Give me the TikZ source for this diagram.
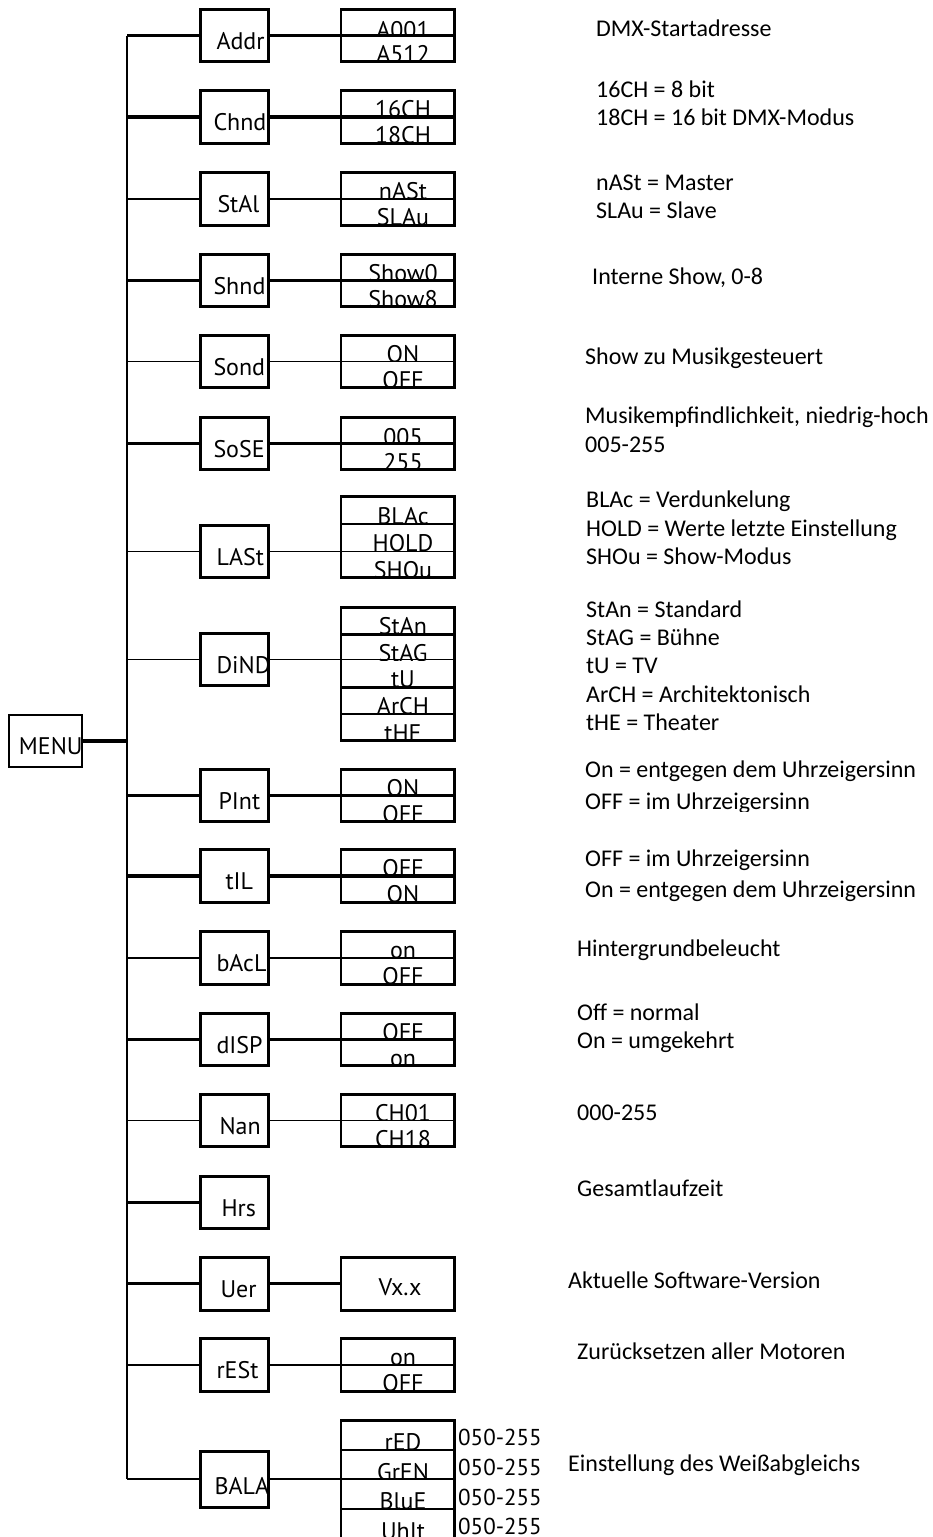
\documentclass[tikz,border=0pt]{standalone}
\usepackage{fontspec}
\setmainfont{Carlito}
\newfontfamily\labfont{PT Sans}
\tikzset{
  lab/.style={font=\labfont\fontsize{24}{28}\selectfont, inner sep=0pt, text=black,
    minimum width=0pt, minimum height=0pt, draw=none, fill=none},
  vallab/.style={font=\labfont\fontsize{23}{28}\selectfont, inner sep=0pt, anchor=base west},
  desc/.style={font=\fontsize{24}{28}\selectfont, inner sep=0pt, anchor=base west},
  l1/.style 2 args={draw, line width=3pt, minimum width=68pt, minimum height=52.5pt, inner sep=0pt,
    path picture={\node[lab, anchor=base west] at ([xshift=#1, yshift=12.5pt]path picture bounding box.south west) {#2};}},
  menubox/.style={draw, line width=2pt, minimum width=73pt, minimum height=52pt, inner sep=0pt,
    path picture={\node[lab, anchor=base west] at ([xshift=9pt, yshift=13pt]path picture bounding box.south west) {MENU};}},
  cellx/.style n args={3}{fill=white, minimum width=113pt, minimum height=#1, inner sep=0pt,
    path picture={\node[lab, anchor=base] at ([xshift=5pt, yshift=#3]path picture bounding box.south) {#2};}},
  cell/.style 2 args={cellx={#1}{#2}{-0.5pt}},
  thk/.style={line width=3.3pt},
  thn/.style={line width=1.7pt},
  trunkline/.style={line width=2pt},
  divthick/.style={line width=2.4pt},
  divthin/.style={line width=1.6pt},
  boxthick/.style={line width=3pt, line cap=rect, line join=miter},
  boxthin/.style={line width=1.8pt},
}
\newcommand\optbox[4]{%
  \foreach \txt [count=\i] in {#4} {
    \node[cell={#3pt}{\txt}] (#1\i) at (398, {#2+(\i-0.5)*#3}) {};
  }%
}
\newcommand\optborder[2]{%
  \draw[boxthick] (#11.north west) -- (#11.north east) -- (#1#2.south east) -- (#1#2.south west);
  \draw[boxthin] (#11.north west) -- (#1#2.south west);
}
\begin{document}
\begin{tikzpicture}[x=1pt, y=-1pt]
\useasboundingbox (0,0) rectangle (932,1537);
\fill[white] (0,0) rectangle (932,1537);

% level-2 option cells
\node[cellx={26.25pt}{A001}{-3pt}] (addr1) at (398,22.375) {};
\node[cellx={26.25pt}{A512}{-0.5pt}] (addr2) at (398,48.625) {};
\optbox{chnd}{90.75}{26.25}{16CH,18CH}
\optbox{stal}{172.75}{26.25}{nASt,SLAu}
\optbox{shnd}{254.25}{26.25}{Show0,Show8}
\optbox{sond}{335.25}{26.25}{ON,OFF}
\node[cellx={26.25pt}{005}{-2pt}] (sose1) at (398,430.375) {};
\node[cellx={26.25pt}{255}{-0.5pt}] (sose2) at (398,456.625) {};
\optbox{last}{496.5}{27}{BLAc,HOLD,SHOu}
\optbox{dind}{607.5}{26.6}{StAn,StAG,tU,ArCH,tHE}
\optbox{pint}{769.25}{26.25}{ON,OFF}
\optbox{til}{849.75}{26.25}{OFF,ON}
\optbox{bacl}{931.75}{26.25}{on,OFF}
\optbox{disp}{1013.25}{26.25}{OFF,on}
\optbox{nan}{1094.25}{26.25}{CH01,CH18}
\node[fill=white, minimum width=113pt, minimum height=52.5pt, inner sep=0pt] (uer1) at (398,1283.75) {};
\node[lab, anchor=base] (uerT) at (400,1295) {Vx.x};
\optbox{rest}{1338.75}{26.25}{on,OFF}
\optbox{bala}{1420.5}{29.5}{rED,GrEN,BluE,UhIt}

% level-1 boxes
\node[l1={14.5pt}{Addr}] (addr) at (234.5,35.5) {};
\node[l1={11.5pt}{Chnd}] (chnd) at (234.5,117) {};
\node[l1={15.5pt}{StAl}] (stal) at (234.5,199) {};
\node[l1={11.5pt}{Shnd}] (shnd) at (234.5,280.5) {};
\node[l1={11.5pt}{Sond}] (sond) at (234.5,361.5) {};
\node[l1={11.5pt}{SoSE}] (sose) at (234.5,443.5) {};
\node[l1={14.5pt}{LASt}] (last) at (234.5,551.5) {};
\node[l1={14.5pt}{DiND}] (dind) at (234.5,659.5) {};
\node[l1={16.5pt}{PInt}] (pint) at (234.5,795.5) {};
\node[l1={23.5pt}{tIL}] (til) at (234.5,876) {};
\node[l1={14.5pt}{bAcL}] (bacl) at (234.5,958) {};
\node[l1={14.5pt}{dISP}] (disp) at (234.5,1039.5) {};
\node[l1={17.5pt}{Nan}] (nan) at (234.5,1120.5) {};
\node[l1={19.5pt}{Hrs}] (hrs) at (234.5,1202.5) {};
\node[l1={18.5pt}{Uer}] (uer) at (234.5,1283.75) {};
\node[l1={14.5pt}{rESt}] (rest) at (234.5,1365) {};
\node[l1={12.5pt}{BALA}, minimum height=56pt] (bala) at (234.5,1479) {};

\node[menubox] (menu) at (45.5,741) {};

% trunk
\coordinate (trunkT) at (127,35.5);
\draw[trunkline] (trunkT) -- (bala.west -| trunkT);
\draw[thk] (menu.east) -- (menu.east -| trunkT);

% branches from trunk
\foreach \n/\s in {addr/thk,chnd/thk,stal/thn,shnd/thk,sond/thn,sose/thk,last/thn,dind/thn,
  pint/thk,til/thk,bacl/thn,disp/thk,nan/thn,hrs/thk,uer/thk,rest/thn,bala/thn}
  \draw[\s] (\n.west -| trunkT) -- (\n.west);

% connectors to option boxes (running through them as divider)
\foreach \n/\s in {addr/thk,chnd/thk,stal/thn,shnd/thk,sond/thn,sose/thk,last/thn,dind/thn,
  pint/thk,til/thk,bacl/thn,disp/thk,nan/thn,rest/thn,bala/thn}
  \draw[\s] (\n.east) -- (\n.east -| \n1.east);
\draw[thk] (uer.east) -- (uer1.west);

% further dividers
\draw[divthick] (last1.south west) -- (last1.south east);
\draw[divthick] (dind1.south west) -- (dind1.south east);
\draw[divthick] (dind3.south west) -- (dind3.south east);
\draw[divthin] (dind4.south west) -- (dind4.south east);
\draw[divthin] (bala1.south west) -- (bala1.south east);
\draw[divthick] (bala3.south west) -- (bala3.south east);

% option box borders
\optborder{addr}{2}
\optborder{chnd}{2}
\optborder{stal}{2}
\optborder{shnd}{2}
\optborder{sond}{2}
\optborder{sose}{2}
\optborder{last}{3}
\optborder{dind}{5}
\optborder{pint}{2}
\optborder{til}{2}
\optborder{bacl}{2}
\optborder{disp}{2}
\optborder{nan}{2}
\optborder{uer}{1}
\optborder{rest}{2}
\optborder{bala}{4}

% value ranges for BALA
\node[vallab] (bv1) at (458,1445) {050-255};
\node[vallab] (bv2) at (458,1475) {050-255};
\node[vallab] (bv3) at (458,1505) {050-255};
\node[vallab] (bv4) at (458,1534) {050-255};

% descriptions
\node[desc] (t1) at (596,36) {DMX-Startadresse};
\node[desc] (t2) at (596,97) {16CH = 8 bit};
\node[desc] (t3) at (596,125) {18CH = 16 bit DMX-Modus};
\node[desc] (t4) at (596,190) {nASt = Master};
\node[desc] (t5) at (596,218) {SLAu = Slave};
\node[desc] (t6) at (592,284) {Interne Show, 0-8};
\node[desc] (t7) at (585,364) {Show zu Musikgesteuert};
\node[desc] (t8) at (585,423) {Musikempfindlichkeit, niedrig-hoch};
\node[desc] (t9) at (585,452) {005-255};
\node[desc] (t10) at (586,507) {BLAc = Verdunkelung};
\node[desc] (t11) at (586,536) {HOLD = Werte letzte Einstellung};
\node[desc] (t12) at (586,564) {SHOu = Show-Modus};
\node[desc] (t13) at (586,617) {StAn = Standard};
\node[desc] (t14) at (586,645) {StAG = Bühne};
\node[desc] (t15) at (586,673) {tU = TV};
\node[desc] (t16) at (586,702) {ArCH = Architektonisch};
\node[desc] (t17) at (586,730) {tHE = Theater};
\node[desc] (t18) at (585,777) {On = entgegen dem Uhrzeigersinn};
\begin{scope}
  \clip (560,785) rectangle (932,811);
  \node[desc] (t19) at (585,809) {OFF = im Uhrzeigersinn};
\end{scope}
\node[desc] (t20) at (585,866) {OFF = im Uhrzeigersinn};
\node[desc] (t21) at (585,897) {On = entgegen dem Uhrzeigersinn};
\node[desc] (t22) at (577,956) {Hintergrundbeleucht};
\node[desc] (t23) at (577,1020) {Off = normal};
\node[desc] (t24) at (577,1048) {On = umgekehrt};
\node[desc] (t25) at (577,1120) {000-255};
\node[desc] (t26) at (577,1196) {Gesamtlaufzeit};
\node[desc] (t27) at (568,1288) {Aktuelle Software-Version};
\node[desc] (t28) at (577,1359) {Zurücksetzen aller Motoren};
\node[desc] (t29) at (568,1471) {Einstellung des Weißabgleichs};
\end{tikzpicture}
\end{document}
